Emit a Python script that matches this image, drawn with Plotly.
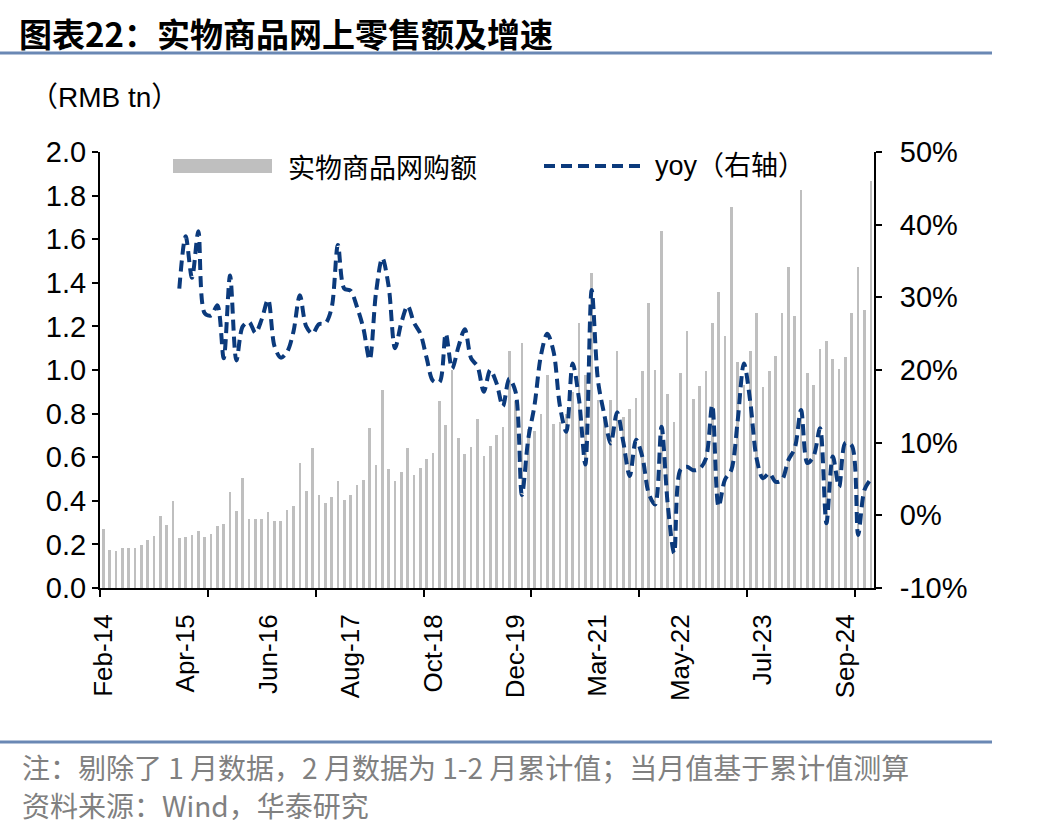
import plotly.graph_objects as go

# ---------------- data ----------------
years = list(range(2014, 2026))
month_names = ["Feb", "Mar", "Apr", "May", "Jun", "Jul", "Aug", "Sep", "Oct", "Nov", "Dec"]
months = []
for y in years:
    for m in month_names:
        months.append(f"{m}-{str(y)[2:]}")
months = months[: months.index("Feb-25") + 1]   # Feb-14 ... Feb-25 (January excluded)

# 实物商品网购额 (RMB tn)
online_sales = [
    0.269, 0.174, 0.170, 0.183, 0.185, 0.183, 0.196, 0.220, 0.238, 0.330, 0.290,   # 2014
    0.399, 0.229, 0.235, 0.243, 0.260, 0.235, 0.248, 0.284, 0.294, 0.442, 0.355,   # 2015
    0.505, 0.317, 0.317, 0.317, 0.349, 0.309, 0.309, 0.358, 0.376, 0.572, 0.446,   # 2016
    0.641, 0.425, 0.391, 0.416, 0.492, 0.404, 0.427, 0.471, 0.495, 0.735, 0.566,   # 2017
    0.908, 0.547, 0.491, 0.531, 0.644, 0.518, 0.550, 0.593, 0.618, 0.858, 0.748,   # 2018
    1.000, 0.687, 0.615, 0.647, 0.775, 0.606, 0.651, 0.702, 0.740, 1.087, 0.860,   # 2019
    1.125, 0.730, 0.722, 0.798, 0.975, 0.752, 0.763, 0.800, 0.900, 1.217, 0.977,   # 2020
    1.444, 0.864, 0.771, 0.862, 1.089, 0.786, 0.822, 0.870, 0.996, 1.309, 1.000,   # 2021
    1.639, 0.890, 0.763, 0.985, 1.179, 0.866, 0.927, 0.997, 1.216, 1.359, 1.156,   # 2022
    1.749, 1.037, 0.931, 1.089, 1.260, 0.924, 0.997, 1.064, 1.260, 1.474, 1.249,   # 2023
    1.826, 0.988, 0.931, 1.095, 1.133, 1.050, 1.006, 1.058, 1.263, 1.474, 1.275,   # 2024
    1.867,                                                                           # 2025
]

# yoy (%), right axis, from Mar-15
yoy_start = "Mar-15"
yoy = [
    31.2, 38.4, 32.7, 39.1, 27.8, 27.5, 28.9, 21.6, 33.0, 21.3,                    # Mar-15..Dec-15
    26.0, 26.6, 25.1, 27.0, 29.7, 23.3, 21.7, 22.5, 25.3, 30.3, 26.0,              # 2016
    25.0, 26.3, 26.4, 28.5, 37.2, 31.2, 30.9, 28.7, 25.8, 21.4, 30.6,              # 2017
    35.4, 31.5, 23.0, 26.5, 28.8, 26.5, 25.0, 21.6, 18.5, 18.3, 25.0,              # 2018
    20.2, 23.2, 25.6, 21.6, 20.5, 17.0, 20.0, 18.2, 15.0, 18.8, 17.0,              # 2019
    2.8, 10.5, 15.2, 22.0, 25.0, 22.5, 15.0, 11.5, 20.9, 16.0, 7.0,                # 2020
    31.0, 18.5, 13.8, 9.9, 14.2, 10.0, 5.4, 10.4, 8.0, 3.0, 1.5,                   # 2021
    12.2, 1.4, -5.2, 6.3, 6.7, 6.2, 6.4, 7.8, 15.2, 1.2, 4.9,                      # 2022
    6.2, 12.9, 20.9, 15.6, 7.8, 5.1, 5.8, 4.6, 4.9, 7.6, 9.2,                      # 2023
    14.5, 7.2, 8.2, 12.0, -1.1, 8.1, 3.9, 10.0, 9.6, -2.7, 3.5,                    # 2024
    5.0,                                                                            # 2025
]

tick_labels = ["Feb-14", "Apr-15", "Jun-16", "Aug-17", "Oct-18",
               "Dec-19", "Mar-21", "May-22", "Jul-23", "Sep-24"]
left_ticks = [0.0, 0.2, 0.4, 0.6, 0.8, 1.0, 1.2, 1.4, 1.6, 1.8, 2.0]
right_ticks = [-10, 0, 10, 20, 30, 40, 50]

title_text = "图表22：实物商品网上零售额及增速"
unit_text = "（RMB tn）"
bar_name = "实物商品网购额"
line_name = "yoy（右轴）"
note_text = "注：剔除了 1 月数据，2 月数据为 1-2 月累计值；当月值基于累计值测算"
source_text = "资料来源：Wind，华泰研究"

# ---------------- layout geometry ----------------
W, H = 1048, 832
L, R, T, B = 100, 174, 152, 244
PW, PH = W - L - R, H - T - B


def px(x):
    return (x - L) / PW


def py(y):
    return (H - B - y) / PH


idx = list(range(len(months)))
yoy_x = idx[months.index(yoy_start): months.index(yoy_start) + len(yoy)]

BAR_COLOR = "#bfbfbf"
LINE_COLOR = "#0b3a7c"
SEP_COLOR = "#6a88b4"
CJK = "Noto Sans CJK SC"
LAT = "Liberation Sans, Arial, Noto Sans CJK SC"

fig = go.Figure()
fig.add_trace(go.Bar(x=idx, y=online_sales, name=bar_name, marker_color=BAR_COLOR,
                     marker_line_width=0, width=0.42, showlegend=False))
fig.add_trace(go.Scatter(x=yoy_x, y=yoy, name=line_name, yaxis="y2", mode="lines",
                         line=dict(color=LINE_COLOR, width=4, dash="11px,6px",
                                   shape="spline", smoothing=0.9),
                         showlegend=False))
# helper trace binding the tick-mark axis
fig.add_trace(go.Scatter(x=[None], y=[None], xaxis="x2", yaxis="y",
                         showlegend=False, hoverinfo="skip"))

xr = [-0.5, len(months) - 0.5]
minor_ticks = [k - 0.5 for k in range(0, len(months), 17)]

fig.update_layout(
    width=W, height=H,
    margin=dict(l=L, r=R, t=T, b=B, pad=0),
    paper_bgcolor="white", plot_bgcolor="white",
    font=dict(family=LAT, size=26, color="black"),
    bargap=0,
    xaxis=dict(range=xr, tickmode="array",
               tickvals=[months.index(t) for t in tick_labels], ticktext=tick_labels,
               tickangle=-90, ticks="outside", ticklen=14, tickcolor="rgba(0,0,0,0)",
               showline=True, linecolor="black", linewidth=2, showgrid=False,
               zeroline=False, tickfont=dict(size=26, family=LAT)),
    xaxis2=dict(range=xr, overlaying="x", anchor="y", side="bottom",
                tickmode="array", tickvals=minor_ticks, ticks="outside", ticklen=8,
                tickwidth=2, tickcolor="black", showticklabels=False,
                showline=False, showgrid=False, zeroline=False),
    yaxis=dict(range=[0, 2.0], tickmode="array", tickvals=left_ticks,
               ticktext=[f"{v:.1f}" for v in left_ticks],
               ticks="outside", ticklen=6, tickwidth=2, tickcolor="black",
               showline=True, linecolor="black", linewidth=2, showgrid=False,
               zeroline=False, tickfont=dict(size=29, family=LAT)),
    yaxis2=dict(range=[-10, 50], overlaying="y", side="right", tickmode="array",
                tickvals=right_ticks, ticktext=[f"{v}%" for v in right_ticks],
                ticks="outside", ticklen=6, tickwidth=2, tickcolor="black",
                showline=True, linecolor="black", linewidth=2, showgrid=False,
                zeroline=False, ticklabelstandoff=12,
                tickfont=dict(size=29, family=LAT)),
)

shapes = [
    # separators
    dict(type="line", xref="paper", yref="paper", x0=px(0), x1=px(992), y0=py(53), y1=py(53),
         line=dict(color=SEP_COLOR, width=3)),
    dict(type="line", xref="paper", yref="paper", x0=px(0), x1=px(992), y0=py(742), y1=py(742),
         line=dict(color=SEP_COLOR, width=3)),
    # legend symbols
    dict(type="rect", xref="paper", yref="paper", x0=px(173), x1=px(272), y0=py(173), y1=py(159),
         fillcolor=BAR_COLOR, line=dict(width=0)),
    dict(type="line", xref="paper", yref="paper", x0=px(544), x1=px(640), y0=py(166), y1=py(166),
         line=dict(color=LINE_COLOR, width=4, dash="11px,6px")),
]
fig.update_layout(shapes=shapes)

ann = [
    dict(text=f"<b>{title_text}</b>", x=px(17), y=py(33), font=dict(family=CJK, size=33, color="black")),
    dict(text=unit_text, x=px(28), y=py(97), font=dict(family=LAT, size=28, color="black")),
    dict(text=bar_name, x=px(286), y=py(166), font=dict(family=CJK, size=27, color="black")),
    dict(text=line_name, x=px(653), y=py(166), font=dict(family=LAT, size=27, color="black")),
    dict(text=note_text, x=px(20), y=py(767), font=dict(family=CJK, size=28, color="#808080")),
    dict(text=source_text, x=px(20), y=py(805), font=dict(family=CJK, size=28, color="#808080")),
]
for a in ann:
    a.update(xref="paper", yref="paper", xanchor="left", yanchor="middle", showarrow=False)
fig.update_layout(annotations=ann)

fig.write_html("out.html")
